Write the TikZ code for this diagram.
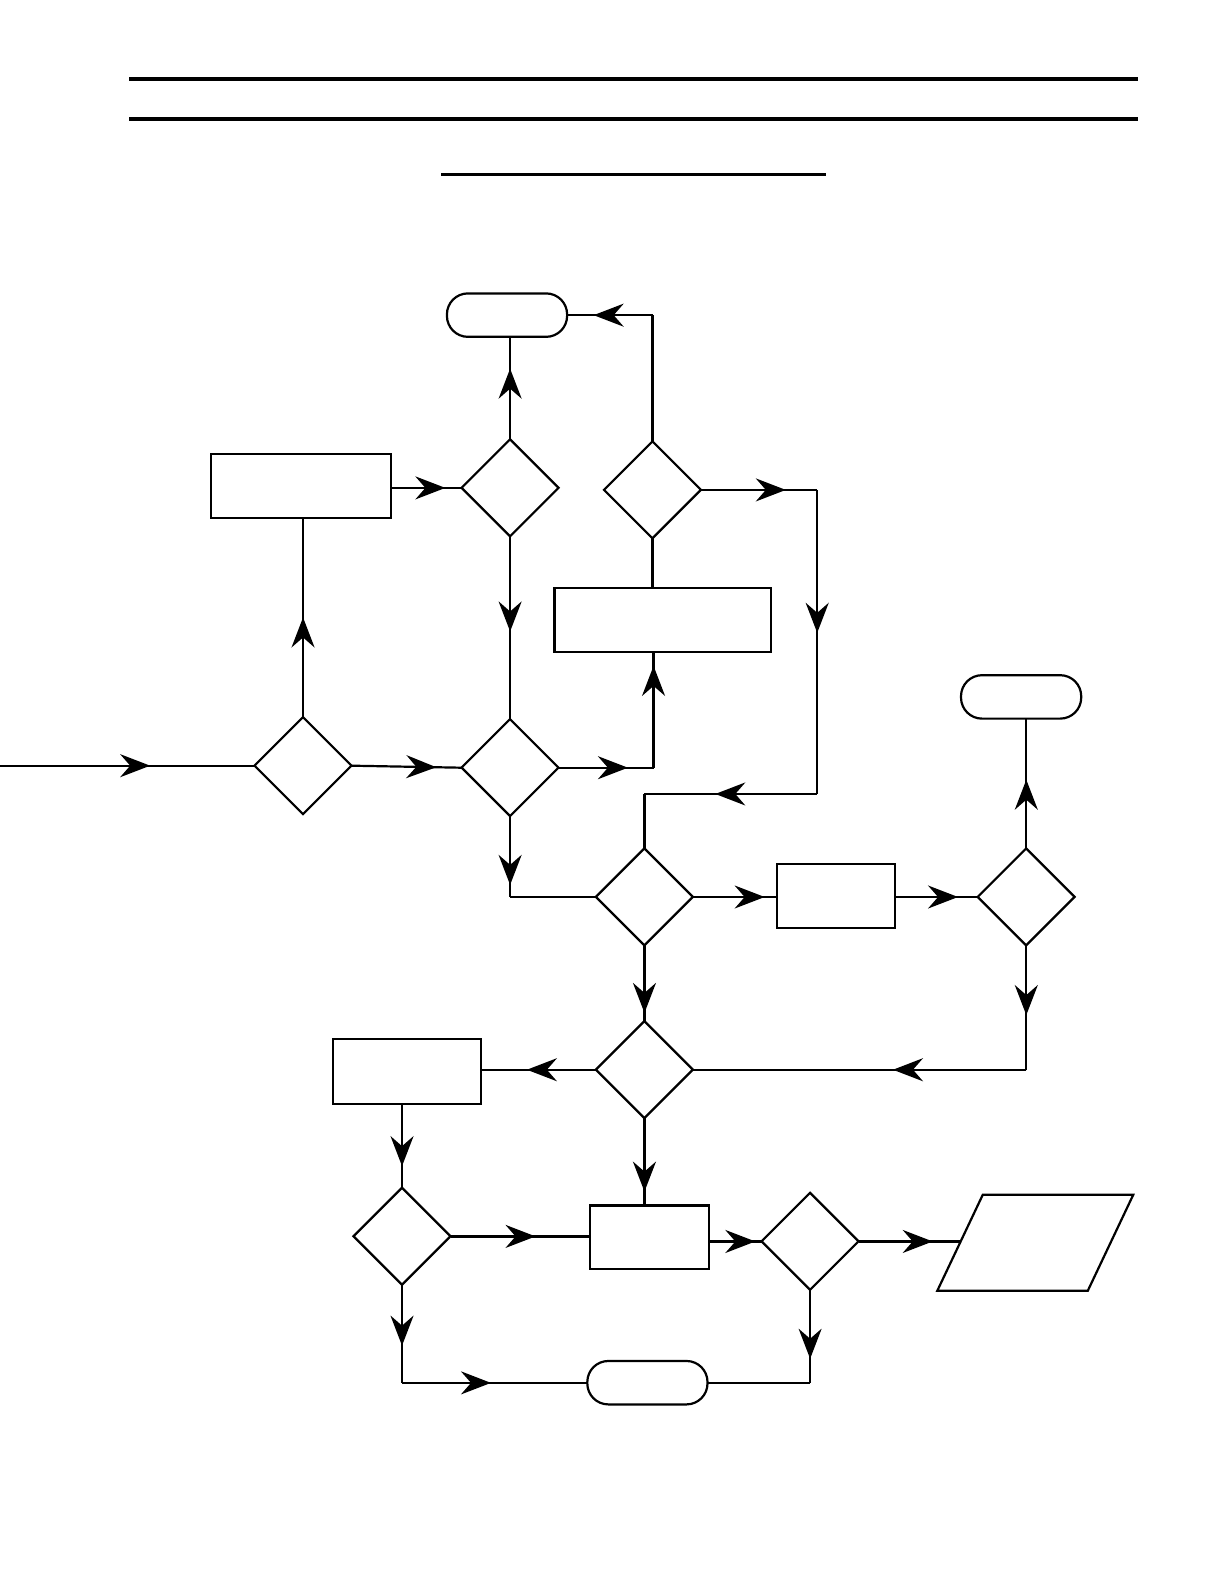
\documentclass[tikz,border=0pt]{standalone}
\usepackage{tikz}
\usetikzlibrary{shapes.geometric, arrows.meta, decorations.markings, calc}

\begin{document}
\begin{tikzpicture}[x=1pt,y=-1pt,scale=1.01,line width=2.2pt,
  every node/.append style={transform shape},
  dec/.style={draw,diamond,minimum width=96pt,minimum height=96pt,inner sep=0pt,outer sep=0pt},
  proc/.style={draw,rectangle,inner sep=0pt,outer sep=0pt},
  term/.style={draw,rectangle,rounded corners=21pt,minimum width=119pt,minimum height=43pt,inner sep=0pt,outer sep=0pt},
  midarrow/.style={postaction={decorate},decoration={markings,
    mark=at position #1 with {\arrow{Stealth[length=30pt,width=23pt,inset=10pt]}}}}]

% heading rules
\draw[line width=3.5pt](128,78)--(1127,78);
\draw[line width=3.5pt](128,118)--(1127,118);
\draw[line width=3pt](437,173)--(818,173);

% shapes
\node[term] (T1) at (502,312) {};
\node[proc,minimum width=178pt,minimum height=63pt] (B1) at (298,481) {};
\node[dec] (D1) at (505,483) {};
\node[dec] (D2) at (646,485) {};
\node[proc,minimum width=214pt,minimum height=63pt] (B2) at (656,614) {};
\node[dec] (D3) at (300,758) {};
\node[dec] (D4) at (505,760) {};
\node[term] (T2) at (1011,690) {};
\node[dec] (D5) at (638,888) {};
\node[proc,minimum width=117pt,minimum height=63pt] (B3) at (828,887) {};
\node[dec] (D6) at (1016,888) {};
\node[dec] (D7) at (638,1059) {};
\node[proc,minimum width=146pt,minimum height=64pt] (B4) at (403,1061) {};
\node[dec] (D8) at (398,1224) {};
\node[proc,minimum width=118pt,minimum height=63pt] (B5) at (643,1225) {};
\node[dec] (D9) at (802,1229) {};
% output parallelogram
\draw (973,1183) -- (1122,1183) -- (1077,1278) -- (928,1278) -- cycle;
\coordinate (P1) at (950.5,1229);
\node[term] (T3) at (641,1369) {};

% corners
\coordinate (in) at (0,758);
\coordinate (c1) at (646,312);
\coordinate (c2) at (809,485);
\coordinate (c3) at (809,786);
\coordinate (c4) at (638,786);
\coordinate (c5) at (647,760);
\coordinate (c6) at (505,888);
\coordinate (c7) at (1016,1059);
\coordinate (c8) at (802,1369);
\coordinate (c9) at (398,1369);

% connectors
\draw[midarrow=0.59] (in) -- (D3.west);
\draw[midarrow=0.5] (D3.north) -- (D3.north |- B1.south);
\draw[midarrow=0.77] (B1.east |- D1.west) -- (D1.west);
\draw[midarrow=0.69] (D1.north) -- (D1.north |- T1.south);
\draw (D2.north) -- (c1);
\draw[midarrow=0.69] (c1) -- (T1.east);
\draw[midarrow=0.73] (D2.east) -- (c2);
\draw[midarrow=0.47] (c2) -- (c3);
\draw[midarrow=0.59] (c3) -- (c4);
\draw (c4) -- (D5.north);
\draw (D2.south) -- (D2.south |- B2.north);
\draw[midarrow=0.52] (D1.south) -- (D4.north);
\draw[midarrow=0.77] (D3.east) -- (D4.west);
\draw[midarrow=0.73] (D4.east) -- (c5);
\draw[midarrow=0.88] (c5) -- (c5 |- B2.south);
\draw[midarrow=0.85] (D4.south) -- (c6);
\draw (c6) -- (D5.west);
\draw[midarrow=0.85] (D5.east) -- (B3.west |- D5.east);
\draw[midarrow=0.76] (B3.east |- D6.west) -- (D6.west);
\draw[midarrow=0.53] (D6.north) -- (D6.north |- T2.south);
\draw[midarrow=0.56] (D6.south) -- (c7);
\draw[midarrow=0.4] (c7) -- (D7.east);
\draw[midarrow=0.89] (D5.south) -- (D7.north);
\draw[midarrow=0.6] (D7.west) -- (B4.east |- D7.west);
\draw[midarrow=0.84] (D7.south) -- (D7.south |- B5.north);
\draw[midarrow=0.74] (D8.north |- B4.south) -- (D8.north);
\draw[midarrow=0.61] (D8.east) -- (B5.west |- D8.east);
\draw[midarrow=0.88] (B5.east |- D9.west) -- (D9.west);
\draw[midarrow=0.73] (D9.east) -- (P1);
\draw[midarrow=0.74] (D9.south) -- (c8);
\draw (c8) -- (T3.east);
\draw[midarrow=0.62] (D8.south) -- (c9);
\draw[midarrow=0.48] (c9) -- (T3.west);

\pgfresetboundingbox
\useasboundingbox (0,0) rectangle (1211.88,1568.32);
\end{tikzpicture}
\end{document}
